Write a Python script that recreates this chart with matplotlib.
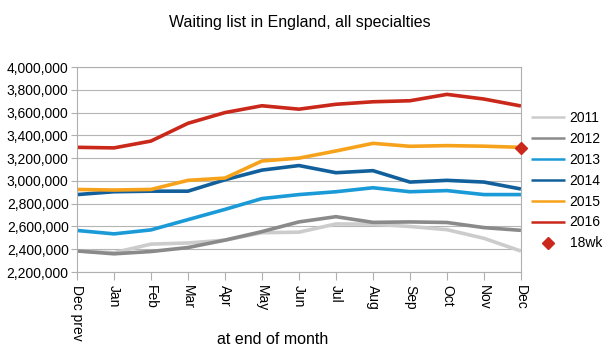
import matplotlib
matplotlib.use("Agg")
import matplotlib.pyplot as plt
from matplotlib.ticker import FuncFormatter

plt.rcParams['font.family'] = ['Liberation Sans', 'DejaVu Sans']

months = ['Dec prev', 'Jan', 'Feb', 'Mar', 'Apr', 'May', 'Jun',
          'Jul', 'Aug', 'Sep', 'Oct', 'Nov', 'Dec']

## waiting list values, thousands
y2011 = [2385, 2370, 2445, 2455, 2480, 2545, 2550, 2622, 2620, 2600, 2572, 2496, 2384]
y2012 = [2385, 2360, 2380, 2415, 2480, 2555, 2640, 2686, 2636, 2640, 2635, 2590, 2566]
y2013 = [2565, 2535, 2570, 2660, 2750, 2845, 2880, 2905, 2940, 2905, 2915, 2880, 2880]
y2014 = [2880, 2905, 2910, 2910, 3010, 3095, 3135, 3072, 3090, 2990, 3005, 2990, 2929]
y2015 = [2925, 2920, 2925, 3005, 3025, 3175, 3200, 3263, 3330, 3304, 3310, 3305, 3295]
y2016 = [3295, 3290, 3350, 3506, 3600, 3660, 3630, 3673, 3695, 3704, 3760, 3719, 3658]
wk18 = 3290

series = [('2011', y2011, '#cccccc'),
          ('2012', y2012, '#8a8a8a'),
          ('2013', y2013, '#1a9ad6'),
          ('2014', y2014, '#11609c'),
          ('2015', y2015, '#f7a21b'),
          ('2016', y2016, '#c9281a')]

fig = plt.figure(figsize=(6.09, 3.51), dpi=100)
ax = fig.add_axes([0.1264, 0.225, 0.729, 0.584])

x = list(range(len(months)))
for name, vals, col in series:
    ax.plot(x, [v * 1000 for v in vals], color=col, lw=2.6, label=name,
            solid_capstyle='butt')
ax.plot([x[-1]], [wk18 * 1000], ls='none', marker='D', ms=6,
        color='#c9281a', label='18wk', clip_on=False, zorder=5)

ax.set_xlim(0, len(months) - 1)
ax.set_ylim(2200000, 4000000)
ax.set_yticks(range(2200000, 4000001, 200000))
ax.yaxis.set_major_formatter(FuncFormatter(lambda v, p: '{:,.0f}'.format(v)))
ax.set_xticks(x)
ax.set_xticklabels(months, rotation=-90, fontsize=10)
ax.tick_params(axis='y', labelsize=10, length=4, color='#b0b0b0', pad=2)
ax.tick_params(axis='x', length=6, color='#b0b0b0', pad=3)
ax.grid(axis='y', color='#b5b5b5', lw=0.8)
ax.set_axisbelow(True)
for s in ax.spines.values():
    s.set_color('#b0b0b0')
    s.set_linewidth(0.8)

fig.text(0.493, 0.937, 'Waiting list in England, all specialties',
         ha='center', va='center', fontsize=11.5)
fig.text(0.447, 0.034, 'at end of month', ha='center', va='center', fontsize=11.5)

leg = ax.legend(loc='center left', bbox_to_anchor=(1.022, 0.446), frameon=False,
                fontsize=10, handlelength=2.5, handletextpad=0.3,
                labelspacing=0.5, borderaxespad=0, borderpad=0)
for h in leg.get_lines():
    h.set_linewidth(1.8)

fig.savefig('out.png', dpi=100)
